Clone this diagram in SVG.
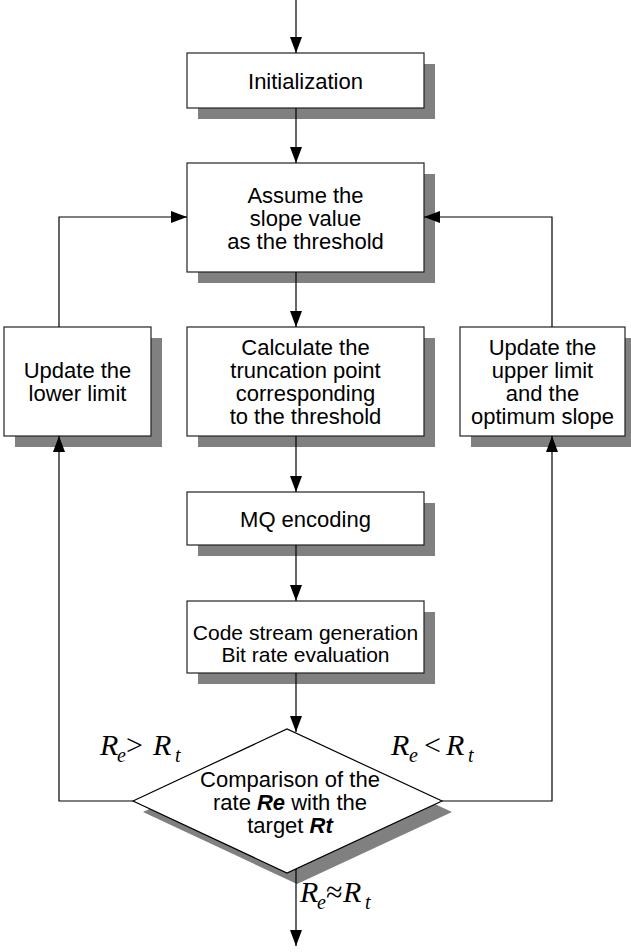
<svg xmlns="http://www.w3.org/2000/svg" width="631" height="952" viewBox="0 0 631 952">
<style>
.shadow{fill:#808080;stroke:none}
.box{fill:#fff;stroke:#222;stroke-width:1.2}
.t{font-family:"Liberation Sans",Arial,sans-serif;font-size:22px;fill:#000;text-anchor:middle}
.t2{font-size:21px}
.m{font-family:"Liberation Serif","Times New Roman",serif;font-style:italic;font-size:30px;fill:#000}
.sub{font-size:20px}
.rel{font-style:normal;font-size:30px}
.bi{font-weight:bold;font-style:italic}
.c{fill:none;stroke:#000;stroke-width:1.2}
</style>
<defs>
<marker id="arr" markerUnits="userSpaceOnUse" markerWidth="17" markerHeight="12" viewBox="0 0 17 12" refX="16" refY="6" orient="auto">
<path d="M0,0 L16,6 L0,12 Z" fill="#000"/>
</marker>
</defs>

<g id="init">
<rect class="shadow" x="198" y="64" width="237" height="55"/>
<rect class="box" x="187" y="53" width="237" height="55"/>
<text class="t" x="305.5" y="89">Initialization</text>
</g>

<g id="assume">
<rect class="shadow" x="198" y="174" width="237" height="109"/>
<rect class="box" x="187" y="163" width="237" height="109"/>
<text class="t" x="305.5" y="203">Assume the</text>
<text class="t" x="305.5" y="226">slope value</text>
<text class="t" x="305.5" y="249">as the threshold</text>
</g>

<g id="lower">
<rect class="shadow" x="15" y="338" width="147" height="109"/>
<rect class="box" x="4" y="327" width="147" height="109"/>
<text class="t" x="77.5" y="378">Update the</text>
<text class="t" x="77.5" y="401">lower limit</text>
</g>

<g id="calc">
<rect class="shadow" x="198" y="338" width="237" height="109"/>
<rect class="box" x="187" y="327" width="237" height="109"/>
<text class="t" x="305.5" y="355">Calculate the</text>
<text class="t" x="305.5" y="378">truncation point</text>
<text class="t" x="305.5" y="401">corresponding</text>
<text class="t" x="305.5" y="424">to the threshold</text>
</g>

<g id="upper">
<rect class="shadow" x="471" y="338" width="165" height="109"/>
<rect class="box" x="460" y="327" width="165" height="109"/>
<text class="t" x="542.5" y="355">Update the</text>
<text class="t" x="542.5" y="378">upper limit</text>
<text class="t" x="542.5" y="401">and the</text>
<text class="t" x="542.5" y="424">optimum slope</text>
</g>

<g id="mq">
<rect class="shadow" x="198" y="503" width="237" height="53"/>
<rect class="box" x="187" y="492" width="237" height="53"/>
<text class="t" x="305.5" y="527">MQ encoding</text>
</g>

<g id="code">
<rect class="shadow" x="198" y="612" width="237" height="72"/>
<rect class="box" x="187" y="601" width="237" height="72"/>
<text class="t t2" x="305.5" y="640">Code stream generation</text>
<text class="t t2" x="305.5" y="662">Bit rate evaluation</text>
</g>

<g id="compare">
<polygon class="shadow" points="143,812 297,740 452,812 297,884"/>
<polygon fill="#fff" stroke="#000" stroke-width="1.2" points="133,801 287,729 442,801 287,873"/>
<text class="t" x="290" y="787">Comparison of the</text>
<text class="t" x="290" y="810">rate <tspan class="bi">Re</tspan> with the</text>
<text class="t" x="290" y="833">target <tspan class="bi">Rt</tspan></text>
</g>

<g id="connectors">
<path class="c" d="M296,0 V53" marker-end="url(#arr)"/>
<path class="c" d="M296,108 V163" marker-end="url(#arr)"/>
<path class="c" d="M296,272 V327" marker-end="url(#arr)"/>
<path class="c" d="M296,436 V492" marker-end="url(#arr)"/>
<path class="c" d="M296,545 V601" marker-end="url(#arr)"/>
<path class="c" d="M296,673 V732" marker-end="url(#arr)"/>
<path class="c" d="M296,869 V946" marker-end="url(#arr)"/>
<path class="c" d="M133,801 H59 V436" marker-end="url(#arr)"/>
<path class="c" d="M59,327 V217 H187" marker-end="url(#arr)"/>
<path class="c" d="M442,801 H552 V436" marker-end="url(#arr)"/>
<path class="c" d="M552,327 V217 H424" marker-end="url(#arr)"/>
</g>

<g id="labels">
<text class="m" y="755"><tspan x="100">R</tspan><tspan class="sub" x="117" y="762">e</tspan><tspan class="rel" x="126" y="755">&gt;</tspan><tspan x="153" y="755">R</tspan><tspan class="sub" x="175" y="762">t</tspan></text>
<text class="m" y="755"><tspan x="391">R</tspan><tspan class="sub" x="409" y="762">e</tspan><tspan class="rel" x="424" y="755">&lt;</tspan><tspan x="446" y="755">R</tspan><tspan class="sub" x="468" y="762">t</tspan></text>
<text class="m" y="902"><tspan x="300">R</tspan><tspan class="sub" x="317" y="909">e</tspan><tspan class="rel" x="326" y="902">≈</tspan><tspan x="343" y="902">R</tspan><tspan class="sub" x="365" y="909">t</tspan></text>
</g>
</svg>
